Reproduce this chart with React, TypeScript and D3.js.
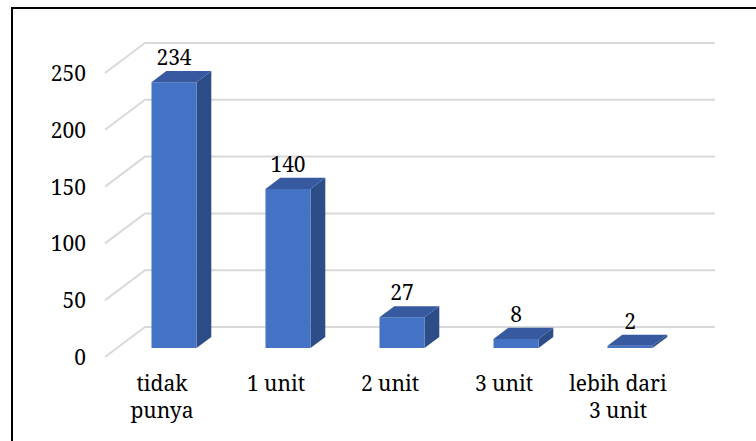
import React from "react";
import * as d3 from "d3";

const categories = ["tidak punya", "1 unit", "2 unit", "3 unit", "lebih dari 3 unit"];
const categoryLines = [["tidak", "punya"], ["1 unit"], ["2 unit"], ["3 unit"], ["lebih dari", "3 unit"]];
const values = [234, 140, 27, 8, 2];
const yTicks = [0, 50, 100, 150, 200, 250];

const W = 756;
const H = 441;
const floorY = 357;
const frontLeft = 105;
const frontRight = 675;
const depthDX = 40;
const depthDY = 30;
const d1 = 0.3;
const d2 = 0.67;
const barHalf = 22.5;
const FONT = "'Noto Serif', 'Liberation Serif', 'DejaVu Serif', serif";
const textStyle = { fontFamily: FONT, fontSize: "21px" };

export default function App() {
  const x = d3.scaleBand<string>().domain(categories).range([frontLeft, frontRight]);
  const h = d3.scaleLinear().domain([0, 250]).range([0, 284]);
  const proj = (xf: number, v: number, d: number): [number, number] => [
    xf + depthDX * d,
    floorY - h(v) - depthDY * d,
  ];
  const pts = (arr: [number, number][]) => arr.map((p) => p.join(",")).join(" ");

  return (
    <svg width={W} height={H} style={{ position: "absolute", left: 0, top: 0, background: "#fff" }}>
      <rect x={0} y={0} width={W} height={H} fill="#fff" />
      {/* frame */}
      <rect x={11} y={7} width={W - 11} height={2} fill="#000" />
      <rect x={11} y={7} width={2} height={H - 7} fill="#000" />
      {/* gridlines */}
      {yTicks.map((t) => {
        const a = proj(frontLeft, t, 0);
        const b = proj(frontLeft, t, 1);
        const c = proj(frontRight, t, 1);
        return (
          <g key={t}>
            <polyline points={pts([a, b, c])} fill="none" stroke="#d9d9d9" strokeWidth={2} />
            <text x={86} y={a[1]} textAnchor="end" dominantBaseline="central" style={textStyle} fill="#000">
              {t}
            </text>
          </g>
        );
      })}
      {/* bars */}
      {categories.map((cat, i) => {
        const v = values[i];
        const c = (x(cat) as number) + x.bandwidth() / 2;
        const L = c - barHalf;
        const R = c + barHalf;
        const front = [proj(L, v, d1), proj(R, v, d1), proj(R, 0, d1), proj(L, 0, d1)];
        const side = [proj(R, v, d1), proj(R, v, d2), proj(R, 0, d2), proj(R, 0, d1)];
        const top = [proj(L, v, d1), proj(R, v, d1), proj(R, v, d2), proj(L, v, d2)];
        const labelPos = proj(c, v, d2);
        return (
          <g key={cat}>
            <polygon points={pts(side)} fill="#2c4d87" />
            <polygon points={pts(front)} fill="#4472c4" />
            <polygon points={pts(top)} fill="#3659a0" />
            <text x={c + depthDX * d1} y={labelPos[1] - 6} textAnchor="middle" style={textStyle} fill="#000">
              {v}
            </text>
          </g>
        );
      })}
      {/* category labels */}
      {categories.map((cat, i) => {
        const c = (x(cat) as number) + x.bandwidth() / 2;
        return (
          <g key={cat}>
            {categoryLines[i].map((line, j) => (
              <text key={j} x={c} y={391 + j * 27} textAnchor="middle" style={textStyle} fill="#000">
                {line}
              </text>
            ))}
          </g>
        );
      })}
    </svg>
  );
}
